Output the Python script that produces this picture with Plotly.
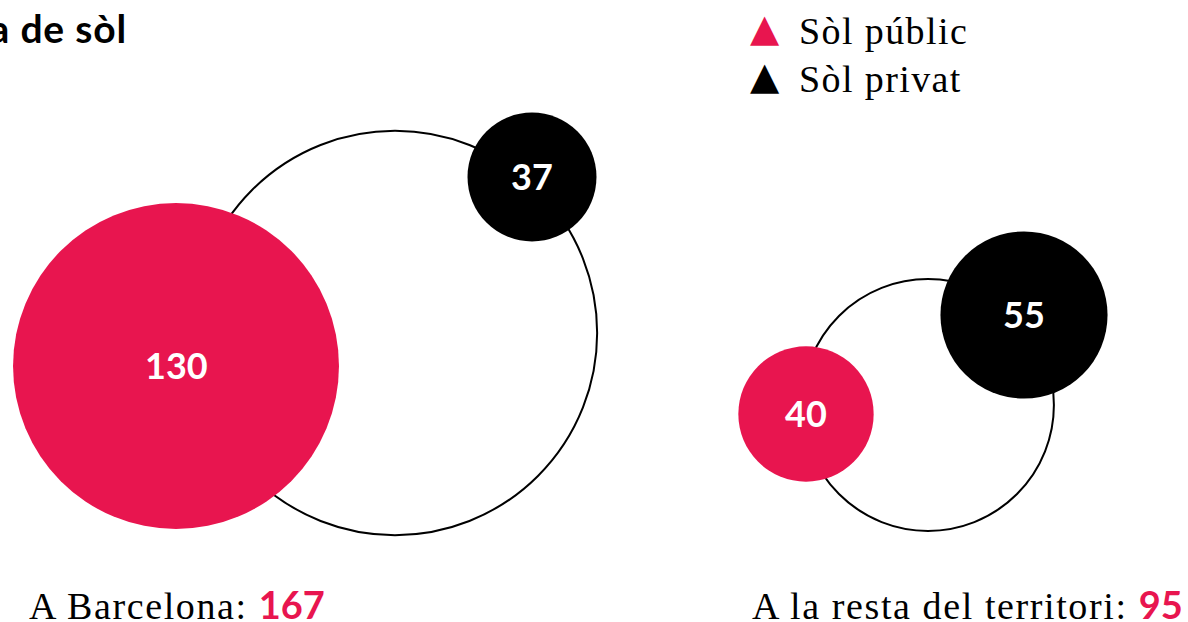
import plotly.graph_objects as go

# ---- data ----
groups = ["A Barcelona", "A la resta del territori"]
total = [167, 95]
public = [130, 40]
private = [37, 55]
legend_labels = ["Sòl públic", "Sòl privat"]
title_text = "Tipologia de sòl"

# ---- styles / layout constants ----
RED = "#E8154F"
BLACK = "#000000"
SERIF = "Liberation Serif"
SANS = "Lato"
W, H = 1188, 622

# circle centres (pixel layout positions)
centers_total = [(395, 333), (928, 405)]
centers_public = [(176, 366), (806, 414)]
centers_private = [(532, 177), (1024, 315)]
label_pos = [(27, 604), (750, 604)]
leg_y = [31, 79]
leg_colors = [RED, BLACK]


def radius(v):
    # linear radius scale
    return 25.3 + 1.059 * v


def spaced(txt, ls):
    return f"<span style='letter-spacing:{ls}px'>{txt}</span>"


fig = go.Figure()

# outline (total) circles
fig.add_trace(go.Scatter(
    x=[c[0] for c in centers_total], y=[c[1] for c in centers_total],
    mode="markers",
    marker=dict(size=[2 * radius(v) for v in total], color="white",
                line=dict(color=BLACK, width=2), opacity=1),
    hoverinfo="skip", showlegend=False))

# public circles
fig.add_trace(go.Scatter(
    x=[c[0] for c in centers_public], y=[c[1] for c in centers_public],
    mode="markers",
    marker=dict(size=[2 * radius(v) for v in public], color=RED, line=dict(width=0), opacity=1),
    hoverinfo="skip", showlegend=False))

# private circles
fig.add_trace(go.Scatter(
    x=[c[0] for c in centers_private], y=[c[1] for c in centers_private],
    mode="markers",
    marker=dict(size=[2 * radius(v) for v in private], color=BLACK, line=dict(width=0), opacity=1),
    hoverinfo="skip", showlegend=False))

annotations = []
# value labels inside the circles
for vals, cents in ((public, centers_public), (private, centers_private)):
    for v, (x, y) in zip(vals, cents):
        annotations.append(dict(x=x, y=y, xref="x", yref="y", text=f"<b>{v}</b>",
                                showarrow=False, xanchor="center", yanchor="middle",
                                yshift=1,
                                font=dict(family=SANS, size=36, color="white")))

# legend: triangle glyph + label
for lab, y, col in zip(legend_labels, leg_y, leg_colors):
    annotations.append(dict(x=765, y=y, xref="x", yref="y", text="▲",
                            showarrow=False, xanchor="center", yanchor="middle",
                            yshift=3,
                            font=dict(family="DejaVu Sans", size=38, color=col)))
    annotations.append(dict(x=797, y=y, xref="x", yref="y", text=spaced(lab, 1.4),
                            showarrow=False, xanchor="left", yanchor="middle",
                            font=dict(family=SERIF, size=38, color=BLACK)))

for g, t, (x, y) in zip(groups, total, label_pos):
    annotations.append(dict(
        x=x, y=y, xref="x", yref="y",
        text=spaced(f"{g}: ", 1.6)
        + f"<span style='font-family:{SANS};color:{RED}'><b>{t}</b></span>",
        showarrow=False, xanchor="left", yanchor="middle",
        font=dict(family=SERIF, size=38, color=BLACK)))

annotations.append(dict(x=129, y=28, xref="x", yref="y",
                        text=f"<b>{spaced(title_text, 0.8)}</b>",
                        showarrow=False, xanchor="right", yanchor="middle",
                        font=dict(family=SANS, size=39, color=BLACK)))

fig.update_layout(
    width=W, height=H,
    margin=dict(l=0, r=0, t=0, b=0),
    paper_bgcolor="white", plot_bgcolor="white",
    xaxis=dict(range=[0, W], visible=False, fixedrange=True),
    yaxis=dict(range=[H, 0], visible=False, fixedrange=True),
    annotations=annotations,
    showlegend=False,
)

fig.write_html("out.html", config={"displayModeBar": False},
               post_script="document.body.style.margin='0';document.body.style.overflow='hidden';")
